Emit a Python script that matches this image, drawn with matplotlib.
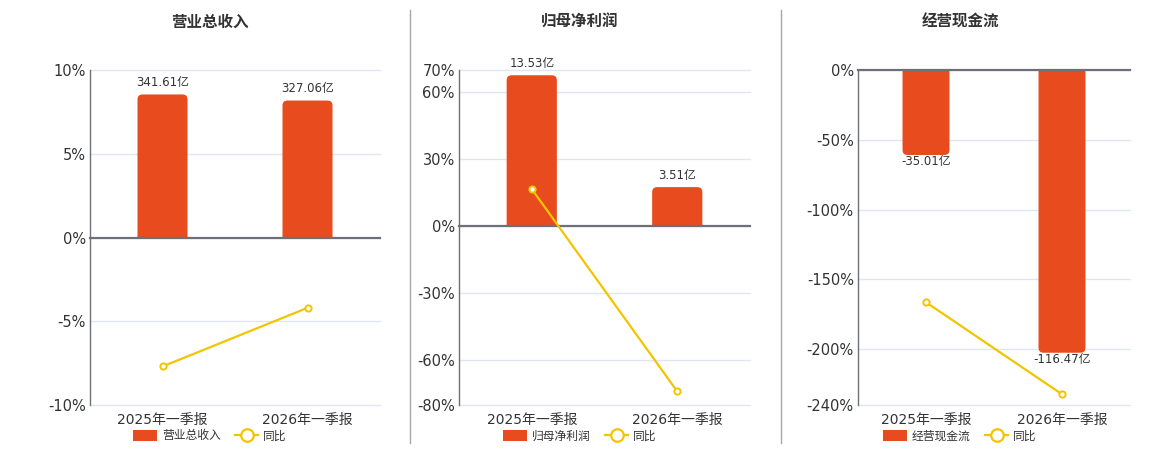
import matplotlib
matplotlib.use('Agg')
import matplotlib.pyplot as plt
from matplotlib.patches import FancyBboxPatch, Patch
from matplotlib.lines import Line2D
from matplotlib.transforms import Bbox, TransformedBbox

plt.rcParams['font.family'] = ['DejaVu Sans', 'Noto Sans CJK SC']

# ---------------- data ----------------
categories = ['2025年一季报', '2026年一季报']
titles = ['营业总收入', '归母净利润', '经营现金流']

revenue = [341.61, 327.06]
revenue_yoy = [-7.7, -4.2]
netprofit = [13.53, 3.51]
netprofit_yoy = [16.7, -73.9]
cashflow = [-35.01, -116.47]
cashflow_yoy = [-166.4, -232.3]

bar_series = [revenue, netprofit, cashflow]
yoy_series = [revenue_yoy, netprofit_yoy, cashflow_yoy]
pct_ticks = [[10, 5, 0, -5, -10],
             [70, 60, 30, 0, -30, -60, -80],
             [0, -50, -100, -150, -200, -240]]
pct_lims = [(-10, 10), (-80, 70), (-240, 0)]
bar_lims = [(-400, 400), (-16, 14), (-138, 0)]
legend_label = '同比'

# ---------------- style ----------------
W, H = 1160, 450
BAR_C = '#E84B1D'
LINE_C = '#F2C500'
AXIS_C = '#6E7079'
GRID_C = '#E0E6F1'
TXT_C = '#333333'
x_ranges = [(90, 380), (459, 750), (858, 1130)]
centers = [210, 580, 960]
y_top, y_bot = 70, 405

fig = plt.figure(figsize=(W / 100, H / 100), dpi=100)

for i in range(3):
    l, r = x_ranges[i]
    rect = [l / W, 1 - y_bot / H, (r - l) / W, (y_bot - y_top) / H]
    ax = fig.add_axes(rect)
    ax_bar = ax.twinx()
    ax_line = ax.twinx()
    xs = list(range(len(categories)))

    # base axis: grid, y ticks, category labels
    ax.set_xlim(-0.5, len(categories) - 0.5)
    ax.set_ylim(*pct_lims[i])
    ax.set_yticks(pct_ticks[i])
    ax.set_yticklabels([f'{t}%' for t in pct_ticks[i]])
    ax.grid(axis='y', color=GRID_C, lw=1)
    for gl in ax.yaxis.get_gridlines():
        gl.set_clip_on(False)
    ax.set_axisbelow(True)
    for s in ['top', 'right', 'bottom']:
        ax.spines[s].set_visible(False)
    ax.spines['left'].set_color(AXIS_C)
    ax.spines['left'].set_linewidth(1)
    ax.set_xticks(xs)
    ax.set_xticklabels(categories)
    ax.set_xticks([0.5, 1.5], minor=True)
    ax.tick_params(axis='x', which='both', length=0, labelsize=10,
                   labelcolor=TXT_C, pad=6)
    ax.tick_params(axis='y', length=0, labelsize=10.5, labelcolor=TXT_C, pad=3)

    # bars on hidden secondary scale
    ax_bar.set_ylim(*bar_lims[i])
    ax_bar.set_yticks([])
    for s in ax_bar.spines.values():
        s.set_visible(False)
    bars = ax_bar.bar(xs, bar_series[i], width=0.345, color=BAR_C)
    px_x = (r - l) / (len(categories))
    px_y = (y_bot - y_top) / (bar_lims[i][1] - bar_lims[i][0])
    rad = 5 / px_x
    aspect = px_x / px_y
    ext = 12 / px_y
    for b, v in zip(bars, bar_series[i]):
        b.set_visible(False)
        x0, w = b.get_x(), b.get_width()
        if v >= 0:
            y0, hh = -ext, v + ext
            clip = Bbox([[x0 - 1, 0], [x0 + w + 1, bar_lims[i][1] * 2]])
        else:
            y0, hh = v, -v + ext
            clip = Bbox([[x0 - 1, bar_lims[i][0] * 2], [x0 + w + 1, 0]])
        p = FancyBboxPatch((x0, y0), w, hh,
                           boxstyle=f'round,pad=0,rounding_size={rad}',
                           mutation_aspect=aspect, fc=BAR_C, ec='none')
        ax_bar.add_patch(p)
        p.set_clip_box(TransformedBbox(clip, ax_bar.transData))
        if v >= 0:
            ax_bar.annotate(f'{v:.2f}亿', (b.get_x() + w / 2, v),
                            xytext=(0, 4), textcoords='offset points',
                            ha='center', va='bottom', fontsize=8.5, color=TXT_C)
        else:
            ax_bar.annotate(f'{v:.2f}亿', (b.get_x() + w / 2, v),
                            xytext=(0, 0), textcoords='offset points',
                            ha='center', va='top', fontsize=8.5, color=TXT_C)

    # line on top layer, same scale as base
    ax_line.set_ylim(*pct_lims[i])
    ax_line.set_yticks([])
    for s in ['top', 'right', 'left']:
        ax_line.spines[s].set_visible(False)
    ax_line.spines['bottom'].set_position(('data', 0))
    ax_line.spines['bottom'].set_color(AXIS_C)
    ax_line.spines['bottom'].set_linewidth(1.6)
    ax_line.tick_params(axis='x', which='major', length=0, labelbottom=False)
    ax_line.tick_params(axis='x', which='minor', length=4, width=1,
                        color=AXIS_C, direction='out', labelbottom=False)
    ax_line.plot(xs, yoy_series[i], color=LINE_C, lw=1.6, marker='o', ms=4.5,
                 mfc='white', mec=LINE_C, mew=1.4, zorder=5)

    # title
    fig.text(centers[i] / W, 1 - 22 / H, titles[i], ha='center', va='center',
             fontsize=11.2, fontweight='bold', color=TXT_C)

    # legend
    handles = [Patch(facecolor=BAR_C, edgecolor='none', label=titles[i]),
               Line2D([0], [0], color=LINE_C, lw=1.6, marker='o', ms=9,
                      mfc='white', mec=LINE_C, mew=1.6, label=legend_label)]
    fig.legend(handles=handles, loc='center',
               bbox_to_anchor=(centers[i] / W, 1 - 436 / H), ncol=2,
               frameon=False, fontsize=8.5, handlelength=2.0, handleheight=1.1,
               handletextpad=0.4, columnspacing=1.2, labelcolor=TXT_C,
               borderaxespad=0, borderpad=0)

# separators
for xsep in [410, 781]:
    fig.add_artist(Line2D([xsep / W, xsep / W], [1 - 10 / H, 1 - 443 / H],
                          color='#A8A8A8', lw=1))

fig.savefig('out.png', dpi=100)
